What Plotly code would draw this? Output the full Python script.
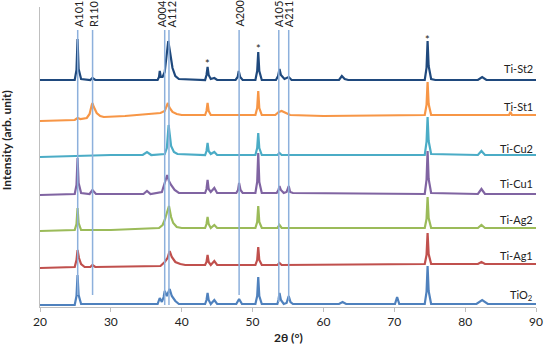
import plotly.graph_objects as go

# ---------------- data ----------------
# each trace: (2theta, intensity above its own baseline), arb. units
ti_st2 = [(20, 0), (24.9, 0), (25.15, 10), (25.3, 41), (25.45, 11), (25.8, 1), (27.1, 0), (27.4, 2), (27.8, 0),
          (36.6, 0), (36.8, 3), (36.9, 9), (37.05, 3), (37.3, 3), (37.6, 8), (37.9, 25), (38.1, 39), (38.35, 28),
          (38.7, 12), (39.1, 4), (39.6, 1), (43.3, 0), (43.5, 5), (43.65, 13), (43.8, 5), (44.1, 1), (44.6, 2),
          (45.0, 0), (47.6, 0), (47.9, 3), (48.05, 9), (48.25, 3), (48.6, 0), (50.4, 0), (50.65, 9), (50.8, 28),
          (50.95, 9), (51.3, 0), (53.3, 0), (53.6, 4), (53.8, 11), (54.0, 5), (54.5, 1), (55.1, 3), (55.5, 0),
          (62.2, 0), (62.6, 4), (63.0, 1), (63.5, 0), (74.3, 0), (74.55, 12), (74.7, 39), (74.85, 14), (75.2, 1),
          (75.8, 0), (81.8, 0), (82.4, 3), (83.0, 0), (90, 0)]

ti_st1 = [(20, -2), (24.9, -1), (25.3, 1), (25.7, 0), (26.6, 1), (27.0, 5), (27.3, 14), (27.4, 16), (27.6, 12),
          (28.0, 6), (28.5, 3), (29, 2), (32, 3), (36.0, 5), (37.0, 6), (37.6, 8), (37.9, 14), (38.05, 16),
          (38.3, 11), (38.7, 7), (39.3, 5), (40, 4), (43.3, 4), (43.5, 8), (43.65, 16), (43.8, 8), (44.1, 4),
          (50.4, 4), (50.65, 11), (50.8, 28), (50.95, 11), (51.3, 4), (53.2, 4), (53.7, 7), (54.1, 8), (54.6, 6),
          (55.3, 4), (60, 3), (74.3, 4), (74.55, 14), (74.7, 37), (74.85, 15), (75.2, 4), (86.2, 4), (86.4, 7),
          (86.6, 4), (90, 4)]

ti_cu2 = [(20, -1), (25, 0), (30, 1), (34.5, 1), (35.1, 4), (35.7, 1), (37.6, 2), (37.9, 8), (38.05, 22),
          (38.15, 31), (38.3, 22), (38.5, 10), (38.9, 4), (39.4, 2), (43.3, 1), (43.5, 5), (43.65, 13), (43.8, 5),
          (44.1, 2), (44.6, 4), (45.0, 1), (50.4, 1), (50.65, 8), (50.8, 23), (50.95, 8), (51.3, 1), (53.5, 1),
          (53.8, 3), (54.1, 1), (74.3, 1), (74.55, 14), (74.7, 39), (74.85, 15), (75.2, 2), (81.8, 1), (82.3, 5),
          (82.8, 1), (90, 1)]

ti_cu1 = [(20, 0), (24.9, 1), (25.15, 10), (25.3, 37), (25.45, 12), (25.8, 2), (27.0, 1), (27.4, 5), (27.9, 1),
          (34.6, 1), (35.1, 4), (35.6, 1), (37.2, 3), (37.5, 10), (37.8, 18), (37.95, 20), (38.2, 14), (38.5, 10),
          (39.0, 5), (39.6, 2), (43.3, 2), (43.5, 6), (43.65, 15), (43.8, 6), (44.1, 3), (44.6, 7), (45.0, 2),
          (47.7, 2), (47.95, 5), (48.1, 12), (48.3, 5), (48.6, 2), (50.4, 2), (50.65, 13), (50.8, 42), (50.95, 13),
          (51.3, 2), (53.4, 2), (53.65, 5), (53.8, 9), (54.0, 5), (54.4, 2), (54.8, 3), (55.1, 9), (55.3, 3),
          (55.7, 2), (74.3, 1), (74.55, 15), (74.7, 44), (74.85, 16), (75.2, 2), (81.8, 1), (82.3, 6), (82.8, 1),
          (90, 1)]

ti_ag2 = [(20, 0), (24.9, 1), (25.15, 7), (25.3, 23), (25.45, 8), (25.8, 1), (30, 1), (36.8, 3), (37.3, 6),
          (37.6, 11), (37.9, 18), (38.2, 25), (38.5, 14), (38.8, 8), (39.3, 4), (40, 3), (43.3, 3), (43.5, 7),
          (43.65, 14), (43.8, 7), (44.1, 3), (44.6, 6), (45.0, 3), (50.4, 3), (50.65, 9), (50.8, 25), (50.95, 9),
          (51.3, 3), (53.5, 3), (53.8, 6), (54.1, 3), (74.3, 3), (74.55, 12), (74.7, 34), (74.85, 13), (75.2, 3),
          (81.8, 3), (82.3, 6), (82.8, 3), (90, 3)]

ti_ag1 = [(20, 0), (24.9, 1), (25.15, 8), (25.3, 18), (25.5, 10), (25.8, 4), (26.3, 1), (27.1, 1), (27.4, 3),
          (27.8, 1), (37.0, 2), (37.6, 6), (38.0, 10), (38.3, 17), (38.6, 11), (39.1, 6), (39.8, 4), (40.5, 3),
          (43.3, 3), (43.5, 6), (43.65, 13), (43.8, 6), (44.1, 3), (44.6, 7), (45.0, 3), (50.4, 3), (50.65, 8),
          (50.8, 21), (50.95, 8), (51.3, 3), (53.5, 3), (53.8, 5), (54.1, 3), (74.3, 4), (74.55, 13), (74.7, 35),
          (74.85, 14), (75.2, 4), (81.8, 4), (82.3, 6), (82.8, 4), (90, 4)]

tio2 = [(20, 0), (24.9, 0), (25.15, 9), (25.3, 30), (25.45, 10), (25.8, 1), (36.6, 1), (36.9, 7), (37.2, 3),
        (37.45, 8), (37.6, 14), (37.9, 9), (38.3, 16), (38.6, 9), (39.1, 4), (39.6, 1), (43.3, 1), (43.5, 5),
        (43.65, 12), (43.8, 5), (44.1, 1), (44.6, 5), (45.0, 1), (47.7, 1), (48.1, 6), (48.5, 1), (50.4, 1),
        (50.65, 9), (50.8, 28), (50.95, 9), (51.3, 1), (53.5, 1), (53.65, 5), (53.8, 12), (54.0, 5), (54.4, 1),
        (54.8, 2), (55.1, 9), (55.35, 3), (55.7, 1), (62.2, 1), (62.7, 3), (63.2, 1), (70.1, 1), (70.4, 8),
        (70.7, 1), (74.3, 1), (74.55, 13), (74.7, 39), (74.85, 14), (75.2, 1), (81.6, 1), (82.4, 5), (83.2, 1),
        (90, 1)]

series_names = ["Ti-St2", "Ti-St1", "Ti-Cu2", "Ti-Cu1", "Ti-Ag2", "Ti-Ag1", "TiO<sub>2</sub>"]
series_data = [ti_st2, ti_st1, ti_cu2, ti_cu1, ti_ag2, ti_ag1, tio2]
series_offsets = [227, 188, 151, 112, 76, 39, 2]
series_label_y = [239, 201, 159, 124, 88, 52, 12]
series_colors = ["#1F497D", "#F79646", "#4BACC6", "#8064A2", "#9BBB59", "#C0504D", "#4F81BD"]

ref_labels = ["A101", "R110", "A004", "A112", "A200", "A105", "A211"]
ref_positions = [25.32, 27.42, 37.6, 38.2, 48.1, 53.7, 55.1]
ref_bottoms = [12, 12, 2, 2, 12, 5, 7]
ref_top = 277
ref_label_shift = [1, 1, -3, 3, 0, 0, 0]

star_positions = [43.65, 50.8, 74.7]
star_heights = [244, 259, 268]

FONT = "Lato, Open Sans, sans-serif"

# ---------------- figure ----------------
fig = go.Figure()

for name, data, off, col in zip(series_names, series_data, series_offsets, series_colors):
    xs = [p[0] for p in data]
    ys = [off + p[1] for p in data]
    fig.add_trace(go.Scatter(x=xs, y=ys, mode="lines", name=name,
                             line=dict(color=col, width=2.2), hoverinfo="skip"))

for lab, pos, bot, sh in zip(ref_labels, ref_positions, ref_bottoms, ref_label_shift):
    fig.add_trace(go.Scatter(x=[pos, pos], y=[bot, ref_top], mode="lines",
                             line=dict(color="#8DB0DC", width=1.5), hoverinfo="skip"))
    fig.add_annotation(x=pos, y=ref_top, text=lab, textangle=-90, showarrow=False,
                       xanchor="center", yanchor="bottom", yshift=1, xshift=sh,
                       font=dict(family=FONT, size=11, color="#222"))

for sp, sh in zip(star_positions, star_heights):
    fig.add_annotation(x=sp, y=sh, text="*", showarrow=False, xanchor="center", yanchor="middle",
                       font=dict(family=FONT, size=11, color="#222"))

for name, ly in zip(series_names, series_label_y):
    fig.add_annotation(x=90, y=ly, text=name, showarrow=False, xanchor="right", yanchor="middle",
                       xshift=-1, font=dict(family=FONT, size=11, color="#222"))

fig.add_annotation(xref="paper", yref="paper", x=-0.066, y=0.557, text="<b>Intensity (arb. unit)</b>",
                   textangle=-90, showarrow=False, xanchor="center", yanchor="middle",
                   font=dict(family=FONT, size=12, color="#222"))
fig.add_annotation(xref="paper", yref="paper", x=0.5, y=-0.1, text="<b>2θ (°)</b>", showarrow=False,
                   xanchor="center", yanchor="middle",
                   font=dict(family=FONT, size=12, color="#222"))

fig.update_layout(width=550, height=345, margin=dict(l=40, r=10, t=7, b=38),
                  plot_bgcolor="white", paper_bgcolor="white", showlegend=False)
fig.update_xaxes(range=[20, 90], tickvals=list(range(20, 91, 10)), showline=True, linecolor="#BFBFBF",
                 linewidth=1, ticks="outside", ticklen=4, tickcolor="#BFBFBF", showgrid=False, zeroline=False,
                 tickfont=dict(family=FONT, size=12, color="#222"))
fig.update_yaxes(range=[0, 300], showticklabels=False, showline=True, linecolor="#BFBFBF", linewidth=1,
                 showgrid=False, zeroline=False, ticks="")

fig.write_html("out.html", config={"displayModeBar": False},
               post_script="document.body.style.margin='0';")
